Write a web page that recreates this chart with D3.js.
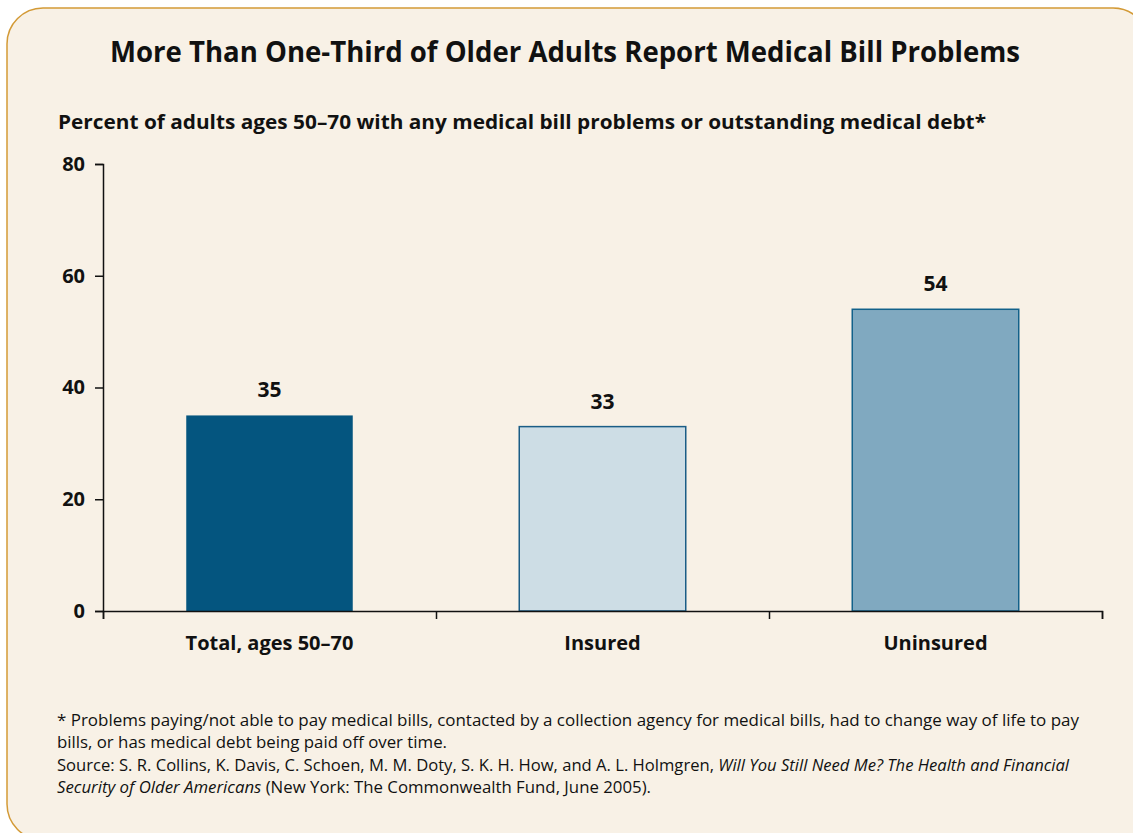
<!DOCTYPE html>
<html>
<head>
<meta charset="utf-8">
<title>Medical Bill Problems</title>
<script src="https://cdn.jsdelivr.net/npm/d3@7/dist/d3.min.js"></script>
<style>
    body { margin: 0; background: #ffffff; }
    svg text { font-family: "Open Sans", "Noto Sans", sans-serif; fill: #111; }
</style>
</head>
<body>
<svg id="mainsvg" width="1133" height="833"></svg>
<script>
    // data
    const categories = ['Total, ages 50\u201370', 'Insured', 'Uninsured'];
    const values = [35, 33, 54];
    const yTicks = [0, 20, 40, 60, 80];
    const barFills = ['#04557f', '#cddde5', '#80a9c0'];
    const barStrokes = ['none', '#1a5d86', '#12618a'];

    const svg = d3.select('#mainsvg');

    // frame
    svg.append('rect')
        .attr('x', 7).attr('y', 8)
        .attr('width', 1142).attr('height', 832)
        .attr('rx', 36).attr('ry', 36)
        .attr('fill', '#f8f1e6')
        .attr('stroke', '#d39a36')
        .attr('stroke-width', 1.5);

    // titles
    svg.append('text')
        .attr('x', 110).attr('y', 62)
        .attr('textLength', 910).attr('lengthAdjust', 'spacingAndGlyphs')
        .attr('font-size', 28).attr('font-weight', 'bold')
        .text('More Than One-Third of Older Adults Report Medical Bill Problems');

    svg.append('text')
        .attr('x', 58).attr('y', 129)
        .attr('textLength', 928).attr('lengthAdjust', 'spacingAndGlyphs')
        .attr('font-size', 19).attr('font-weight', 'bold')
        .text('Percent of adults ages 50\u201370 with any medical bill problems or outstanding medical debt*');

    // scales
    const x = d3.scaleBand().domain(categories).range([103, 1102]).paddingInner(0.5).paddingOuter(0.25);
    const y = d3.scaleLinear().domain([0, 80]).range([611, 164]);

    // bars
    svg.selectAll('.bar').data(values).join('rect')
        .attr('class', 'bar')
        .attr('x', (d, i) => x(categories[i]))
        .attr('y', d => y(d))
        .attr('width', x.bandwidth())
        .attr('height', d => y(0) - y(d))
        .attr('fill', (d, i) => barFills[i])
        .attr('stroke', (d, i) => barStrokes[i])
        .attr('stroke-width', 1.5);

    // value labels
    svg.selectAll('.val').data(values).join('text')
        .attr('class', 'val')
        .attr('x', (d, i) => x(categories[i]) + x.bandwidth() / 2)
        .attr('y', d => y(d) - 18)
        .attr('text-anchor', 'middle')
        .attr('font-size', 21).attr('font-weight', 'bold')
        .text(d => d);

    // y axis
    const yAxis = svg.append('g')
        .attr('transform', 'translate(103,0)')
        .call(d3.axisLeft(y).tickValues(yTicks).tickSize(8).tickPadding(10));
    yAxis.select('.domain').attr('stroke', '#111').attr('stroke-width', 1.5);
    yAxis.selectAll('.tick line').attr('stroke', '#111').attr('stroke-width', 1.5);
    yAxis.selectAll('.tick text')
        .attr('font-size', 20).attr('font-weight', 'bold')
        .attr('font-family', '"Open Sans", sans-serif').attr('fill', '#111');

    // x axis with ticks at band boundaries
    const xb = d3.scaleLinear().domain([0, categories.length]).range([103, 1102]);
    const xAxis = svg.append('g')
        .attr('transform', 'translate(0,611)')
        .call(d3.axisBottom(xb).ticks(categories.length).tickSize(8).tickFormat(''));
    xAxis.select('.domain').attr('stroke', '#111').attr('stroke-width', 1.5);
    xAxis.selectAll('.tick line').attr('stroke', '#111').attr('stroke-width', 1.5);

    // category labels
    svg.selectAll('.cat').data(categories).join('text')
        .attr('class', 'cat')
        .attr('x', d => x(d) + x.bandwidth() / 2)
        .attr('y', 650)
        .attr('text-anchor', 'middle')
        .attr('font-size', 20).attr('font-weight', 'bold')
        .text(d => d);

    // footnotes
    const notes = svg.append('g').attr('font-size', 16);
    notes.append('text').attr('x', 57).attr('y', 726)
        .attr('textLength', 1022).attr('lengthAdjust', 'spacingAndGlyphs')
        .text('* Problems paying/not able to pay medical bills, contacted by a collection agency for medical bills, had to change way of life to pay');
    notes.append('text').attr('x', 57).attr('y', 748)
        .attr('textLength', 390).attr('lengthAdjust', 'spacingAndGlyphs')
        .text('bills, or has medical debt being paid off over time.');
    const src = notes.append('text').attr('x', 57).attr('y', 771)
        .attr('textLength', 1012).attr('lengthAdjust', 'spacingAndGlyphs');
    src.append('tspan').text('Source: S. R. Collins, K. Davis, C. Schoen, M. M. Doty, S. K. H. How, and A. L. Holmgren, ');
    src.append('tspan').attr('font-style', 'italic').text('Will You Still Need Me? The Health and Financial');
    const src2 = notes.append('text').attr('x', 57).attr('y', 793)
        .attr('textLength', 594).attr('lengthAdjust', 'spacingAndGlyphs');
    src2.append('tspan').attr('font-style', 'italic').text('Security of Older Americans');
    src2.append('tspan').text(' (New York: The Commonwealth Fund, June 2005).');
</script>
</body>
</html>
